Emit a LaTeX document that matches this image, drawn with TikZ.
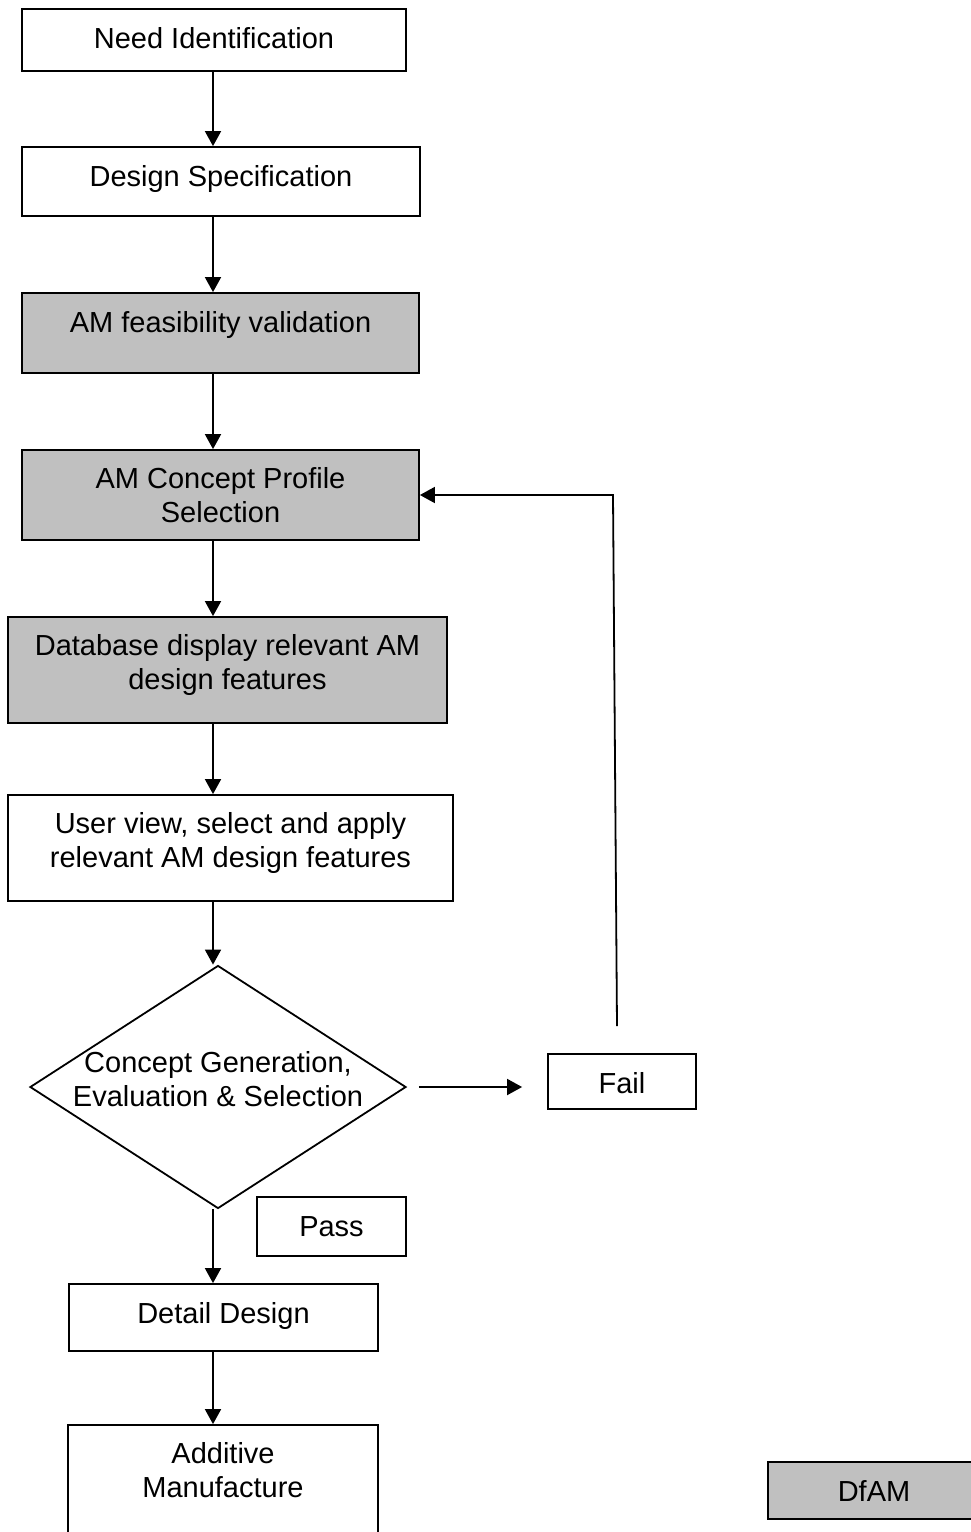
\documentclass[tikz,border=0pt]{standalone}
\usepackage{fontspec}
\setmainfont{Liberation Sans}
\usetikzlibrary{arrows.meta, positioning, shapes.geometric}
\definecolor{dfam}{HTML}{C0C0C0}

\begin{document}
\begin{tikzpicture}[
  x=0.5pt, y=-0.5pt,
  font=\fontsize{14.5}{16.8}\selectfont,
  line width=0.9pt,
  box/.style={draw, rectangle, align=center, inner xsep=0pt, inner ysep=0pt,
              text height=19.5pt, text depth=#1},
  twoline/.style={box=#1, text height=36.25pt},
  am/.style={fill=dfam},
  decision/.style={draw, diamond, align=center, aspect=1.55, inner xsep=-7pt,
                   inner ysep=0pt, text height=27pt, text depth=7.5pt,
                   minimum width=188pt, minimum height=121.5pt},
  arr/.style={-{Triangle[length=7.5pt, width=8pt]}},
]
\useasboundingbox (0,0) rectangle (970,1532);

% Process steps
\node[box=11.5pt, minimum width=192pt] (need) at (214,40) {Need Identification};
\node[box=15pt, minimum width=199pt] (design) at (221,181.5) {Design Specification};
\node[box=20.5pt, minimum width=198.5pt, am] (feas) at (220.5,333) {AM feasibility validation};
\node[twoline=8.75pt, minimum width=198.5pt, am] (concept) at (220.5,495) {AM Concept Profile\\Selection};
\node[twoline=16.75pt, minimum width=219.5pt, am] (database) at (227.5,670) {Database display relevant AM\\design features};
\node[twoline=16.75pt, minimum width=222.5pt] (userview) at (230.5,848) {User view, select and apply\\relevant AM design features};
\node[decision] (decide) at (218,1087) {Concept Generation,\\Evaluation \& Selection};
\node[box=8pt, minimum width=74pt] (fail) at (622,1081.5) {Fail};
\node[box=9.75pt, minimum width=74.5pt] (pass) at (331.5,1226.5) {Pass};
\node[box=14pt, minimum width=154.5pt] (detail) at (223.5,1317.5) {Detail Design};
\node[twoline=23.75pt, minimum width=155pt] (additive) at (223,1485) {Additive\\Manufacture};

% Legend
\node[box=8.75pt, minimum width=106pt, am] (legend) at (874,1490.5) {DfAM};

% Connectors
\coordinate (spine) at (213,0);
\foreach \a/\b in {need/design, design/feas, feas/concept, concept/database,
                   database/userview, userview/decide, decide/detail, detail/additive}
  \draw[arr] (\a.south -| spine) -- (\b.north -| spine);
\draw[arr, shorten <=6pt, shorten >=12.5pt] (decide.east) -- (decide.east -| fail.west);
\coordinate (loopfoot) at (617,1026);
\coordinate (looptop) at (613,495);
\draw[arr] (loopfoot) -- (looptop) -- (concept.east);
\end{tikzpicture}
\end{document}
